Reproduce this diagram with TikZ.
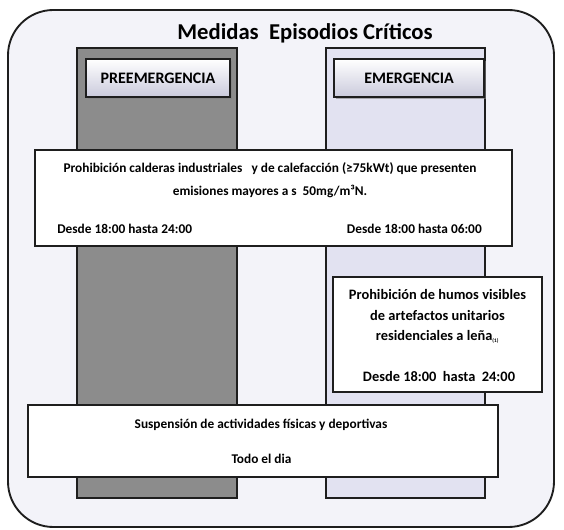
\documentclass[tikz,border=0pt]{standalone}
\usepackage{fontspec}
\setmainfont{Carlito}
\usetikzlibrary{shadows}
\definecolor{bgc}{HTML}{F3F3F9}
\definecolor{darkcol}{HTML}{8C8C8C}
\definecolor{lightcol}{HTML}{E2E2F1}
\definecolor{hdrbot}{HTML}{CACADC}
\definecolor{edge}{HTML}{1E1E1E}
\tikzset{
  colbox/.style={draw=edge, line width=1.1pt, minimum width=#1, minimum height=337.5pt, inner sep=0pt},
  hdr/.style={draw=edge, line width=0.9pt, top color=white, bottom color=hdrbot, drop shadow={shadow xshift=1.5pt, shadow yshift=-1.5pt, opacity=0.6},
    minimum height=28.5pt, inner sep=0pt, font=\fontsize{12}{14}\selectfont\bfseries},
  msgbox/.style={draw=edge, line width=1.2pt, fill=white, inner sep=0pt},
  txt/.style={font=\fontsize{10}{17}\selectfont\bfseries, inner sep=0pt, align=center},
  txtb/.style={font=\fontsize{10.8}{15.5}\selectfont\bfseries, inner sep=0pt, align=center},
}
\begin{document}
\begin{tikzpicture}[x=0.75pt,y=-0.75pt]
\useasboundingbox (0,0) rectangle (564,530);
\draw[draw=edge, line width=1.4pt, fill=bgc, rounded corners=34pt] (8,10) rectangle (554,527);
\node[font=\fontsize{17}{20}\selectfont\bfseries] (title) at (305,33) {Medidas\ \ Episodios Críticos};
\node[colbox=120pt, fill=darkcol] (colL) at (157,273) {};
\node[colbox=119.25pt, fill=lightcol] (colR) at (405.5,273) {};
\node[hdr, minimum width=108pt] (hdrL) at (158,78) {PREEMERGENCIA};
\node[hdr, minimum width=112.5pt] (hdrR) at (409,78) {EMERGENCIA};
% box 1
\node[msgbox, minimum width=357.75pt, minimum height=72pt] (b1) at (273.5,198) {};
\node[txt] (b1t) at (270,180.5) {Prohibición calderas industriales\ \ \ y de calefacción (≥75kWt) que presenten\\emisiones mayores a s\ \ 50mg/m³N.};
\node[txt, anchor=west] (b1l) at (57,229) {Desde 18:00 hasta 24:00};
\node[txt, anchor=east] (b1r) at (482,229) {Desde 18:00 hasta 06:00};
% box 2
\node[msgbox, minimum width=156.75pt, minimum height=86.25pt] (b2) at (437.5,334.5) {};
\node[txtb] (b2t) at (437.5,316.5) {Prohibición de humos visibles\\de artefactos unitarios\\residenciales a leña\textsubscript{\fontsize{4}{4}\selectfont(1)}};
\node[txtb] (b2d) at (439,377) {Desde 18:00\ \ hasta\ \ 24:00};
% box 3
\node[msgbox, minimum width=352.5pt, minimum height=54pt] (b3) at (263,441) {};
\node[txt] (b3a) at (261,425) {Suspensión de actividades físicas y deportivas};
\node[txt] (b3b) at (261.5,459) {Todo el dia};
\end{tikzpicture}
\end{document}
